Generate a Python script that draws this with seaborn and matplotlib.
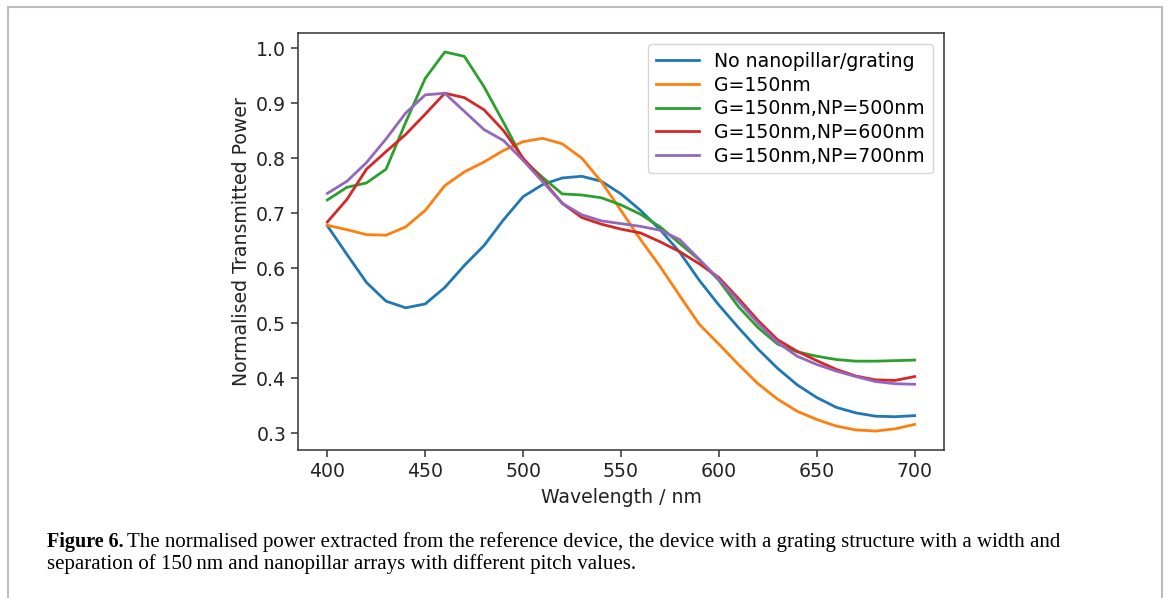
import pandas as pd
import matplotlib.pyplot as plt
from matplotlib.lines import Line2D
import seaborn as sns

wavelength = list(range(400, 701, 10))

no_grating = [0.677, 0.625, 0.574, 0.540, 0.528, 0.535, 0.565, 0.605, 0.641, 0.688,
              0.730, 0.752, 0.764, 0.767, 0.758, 0.735, 0.705, 0.670, 0.629, 0.578,
              0.533, 0.492, 0.453, 0.418, 0.388, 0.365, 0.347, 0.337, 0.331, 0.330, 0.332]
g150 = [0.678, 0.670, 0.661, 0.660, 0.675, 0.705, 0.750, 0.775, 0.793, 0.814,
        0.830, 0.836, 0.826, 0.800, 0.757, 0.705, 0.652, 0.603, 0.550, 0.498,
        0.462, 0.425, 0.390, 0.362, 0.340, 0.325, 0.313, 0.306, 0.304, 0.308, 0.316]
np500 = [0.724, 0.747, 0.755, 0.780, 0.865, 0.945, 0.993, 0.985, 0.930, 0.865,
         0.797, 0.765, 0.735, 0.733, 0.728, 0.715, 0.698, 0.675, 0.645, 0.615,
         0.578, 0.530, 0.492, 0.462, 0.448, 0.440, 0.434, 0.431, 0.431, 0.432, 0.433]
np600 = [0.684, 0.725, 0.780, 0.812, 0.843, 0.880, 0.918, 0.910, 0.888, 0.850,
         0.800, 0.760, 0.718, 0.692, 0.680, 0.671, 0.664, 0.648, 0.630, 0.608,
         0.583, 0.545, 0.505, 0.470, 0.449, 0.432, 0.416, 0.404, 0.397, 0.396, 0.403]
np700 = [0.736, 0.758, 0.792, 0.835, 0.882, 0.915, 0.918, 0.885, 0.852, 0.832,
         0.796, 0.757, 0.718, 0.697, 0.686, 0.681, 0.676, 0.669, 0.652, 0.616,
         0.580, 0.540, 0.500, 0.465, 0.440, 0.425, 0.413, 0.403, 0.394, 0.390, 0.389]

labels = ["No nanopillar/grating", "G=150nm", "G=150nm,NP=500nm",
          "G=150nm,NP=600nm", "G=150nm,NP=700nm"]
series = [no_grating, g150, np500, np600, np700]

df = pd.concat([pd.DataFrame({"wavelength": wavelength, "power": s, "device": lab})
                for lab, s in zip(labels, series)], ignore_index=True)

plt.rcParams['font.family'] = ['DejaVu Sans']
fig = plt.figure(figsize=(11.7, 5.98), dpi=100)
ax = fig.add_axes([0.2547, 0.2475, 0.5521, 0.6973])

palette = ['#1f77b4', '#ff7f0e', '#2ca02c', '#d62728', '#9467bd']
sns.lineplot(data=df, x="wavelength", y="power", hue="device", hue_order=labels,
             palette=palette, linewidth=2, ax=ax)

fs = 13.6
ax.set_xticks([400, 450, 500, 550, 600, 650, 700])
ax.set_yticks([0.3, 0.4, 0.5, 0.6, 0.7, 0.8, 0.9, 1.0])
ax.tick_params(labelsize=fs, length=5, width=1.1, colors='#333333', labelcolor='#222222')
for sp in ax.spines.values():
    sp.set_linewidth(1.1)
    sp.set_color('#333333')
ax.set_xlabel("Wavelength / nm", fontsize=fs, color='#222222', labelpad=5)
ax.set_ylabel("Normalised Transmitted Power", fontsize=fs, color='#222222')

handles, labs = ax.get_legend_handles_labels()
ax.legend(handles, labs, loc="upper right", fontsize=fs, frameon=True,
          handlelength=2.3, labelspacing=0.25, borderaxespad=0.6)

# outer frame of the figure panel
for xs, ys in [([8 / 1170, 1162 / 1170], [1 - 7 / 598, 1 - 7 / 598]),
               ([8 / 1170, 8 / 1170], [0, 1 - 7 / 598]),
               ([1162 / 1170, 1162 / 1170], [0, 1 - 7 / 598])]:
    fig.add_artist(Line2D(xs, ys, color='#bdbdbd', linewidth=1.5))

cap_font = ['Liberation Serif', 'DejaVu Serif']
fig.text(47 / 1170, 1 - 547 / 598, "Figure 6.", fontsize=14.5, fontweight='bold',
         family=cap_font, va='baseline', ha='left')
fig.text(127 / 1170, 1 - 547 / 598,
         "The normalised power extracted from the reference device, the device with a grating structure with a width and",
         fontsize=15.0, family=cap_font, va='baseline', ha='left')
fig.text(47 / 1170, 1 - 569 / 598,
         "separation of 150\u2009nm and nanopillar arrays with different pitch values.",
         fontsize=15.0, family=cap_font, va='baseline', ha='left')

fig.savefig("out.png", dpi=100)
